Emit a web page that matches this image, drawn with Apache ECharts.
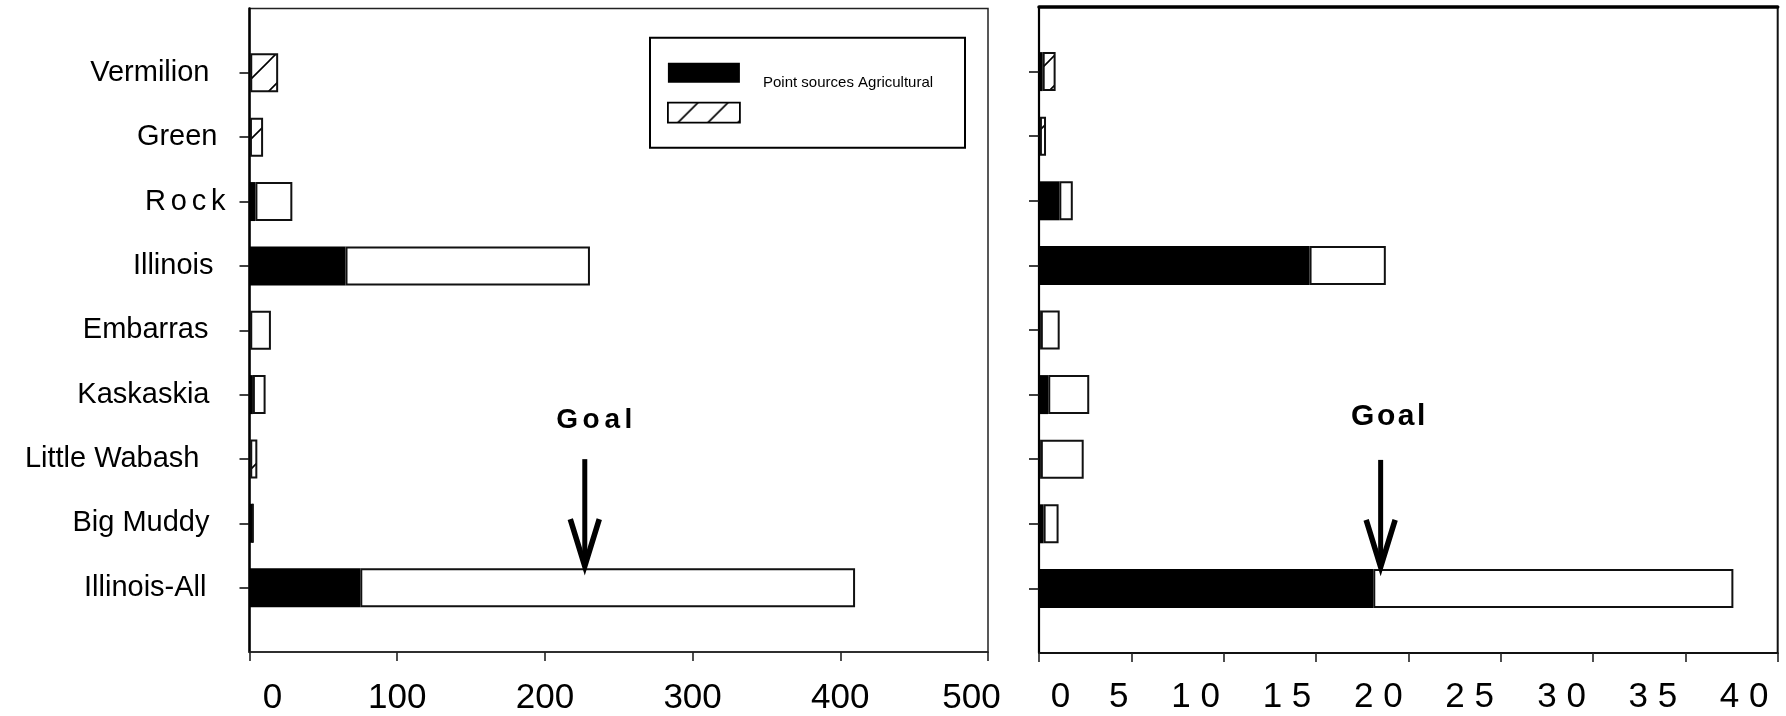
<!DOCTYPE html>
<html><head><meta charset="utf-8">
<script src="https://cdn.jsdelivr.net/npm/echarts@6/dist/echarts.min.js"></script>
<style>html,body{margin:0;padding:0;background:#fff}#c{width:1786px;height:716px}</style>
</head><body><div id="c"></div>
<script>
// ---- data ----
const categories = ['Vermilion', 'Green', 'Rock', 'Illinois', 'Embarras', 'Kaskaskia', 'Little Wabash', 'Big Muddy', 'Illinois-All'];
const leftPoint = [0.5, 0.3, 4, 65, 0.5, 2.3, 0.5, 2.3, 75];
const leftAgri  = [18.9, 8.9, 25, 165.5, 14, 8.6, 4.8, 0, 335];
const leftHatched = ['Vermilion', 'Green', 'Little Wabash'];
const rightPoint = [0.2, 0.05, 1.1, 14.65, 0.1, 0.5, 0.1, 0.25, 18.1];
const rightAgri  = [0.7, 0.33, 0.73, 4.13, 1.02, 2.22, 2.32, 0.81, 19.5];
const rightHatched = ['Vermilion', 'Green'];
const leftAxis = { min: 0, max: 500, interval: 100 };
const rightAxis = { min: 0, max: 40, interval: 5 };
const leftGoal = 227;
const rightGoal = 18.5;
const goalLabel = 'Goal';
const seriesNames = ['Point sources', 'Agricultural'];
const legendText = 'Point sources Agricultural';

// ---- label styling (positions only, not data) ----
const catLabelPadRight = { 'Vermilion': 16, 'Green': 8, 'Rock': 0, 'Illinois': 12, 'Embarras': 17, 'Kaskaskia': 16, 'Little Wabash': 26, 'Big Muddy': 16, 'Illinois-All': 19 };

// ---- helpers ----
const FONT = "'Liberation Sans', Arial, sans-serif";
function hatchCanvas() {
  const s = 30, c = document.createElement('canvas');
  c.width = s; c.height = s;
  const g = c.getContext('2d');
  g.fillStyle = '#fff'; g.fillRect(0, 0, s, s);
  g.strokeStyle = '#000'; g.lineWidth = 1.6;
  g.beginPath();
  g.moveTo(-2, s + 2); g.lineTo(s + 2, -2);
  g.moveTo(-2, 2); g.lineTo(2, -2);
  g.moveTo(s - 2, s + 2); g.lineTo(s + 2, s - 2);
  g.stroke();
  return c;
}
const hatch = { image: hatchCanvas(), repeat: 'repeat' };
const yCats = ['', ...categories, ' '];
const pad = arr => ['-', ...arr, '-'];
function agriData(vals, hatched) {
  return pad(vals.map((v, i) => hatched.includes(categories[i]) ? { value: v, itemStyle: { color: hatch } } : v));
}
const BW = 39;
function barSeries(idx, point, agri, hatched) {
  return [
    { name: seriesNames[0], type: 'bar', stack: 's' + idx, xAxisIndex: idx, yAxisIndex: idx, barWidth: BW,
      itemStyle: { color: '#000' }, data: pad(point), silent: true },
    { name: seriesNames[1], type: 'bar', stack: 's' + idx, xAxisIndex: idx, yAxisIndex: idx, barWidth: BW,
      itemStyle: { color: '#fff', borderColor: '#111', borderWidth: 2 }, data: agriData(agri, hatched), silent: true }
  ];
}
const tickCat = { show: true, length: 10, inside: false, interval: (i) => i > 0 && i < yCats.length - 1, lineStyle: { color: '#111', width: 1.6 } };

// category label rich tokens
const catRich = {};
categories.forEach((c, i) => { catRich['c' + i] = { fontSize: 29, fontFamily: FONT, color: '#000', padding: [0, catLabelPadRight[c] || 0, 0, 0] }; });
function catFormatter(v) {
  const i = categories.indexOf(v);
  if (i < 0) return '';
  const t = v === 'Rock' ? 'R\u2006o\u2006c\u2006k' : v;
  return '{c' + i + '|' + t + '}';
}

// right axis labels: spaced digits, right-aligned to tick (min label sits right of its tick)
const FS = 35;
function spacedWidth(s) { let w = 0; for (const ch of s) w += (ch === ' ' ? 0.278 : 0.556) * FS; return w; }
const rightRich = {};
function rightFormatter(v) {
  const s = String(v).split('').join(' ');
  const key = 'r' + v;
  if (v === rightAxis.min) {
    rightRich[key] = { fontSize: FS, fontFamily: FONT, color: '#000', padding: [0, 0, 0, 43] };
  } else {
    const d = 2 + 0.18 * v;
    rightRich[key] = { fontSize: FS, fontFamily: FONT, color: '#000', padding: [0, Math.round(spacedWidth(s) + 2 * d), 0, 0] };
  }
  return '{' + key + '|' + s + '}';
}
for (let v = rightAxis.min; v <= rightAxis.max; v += rightAxis.interval) rightFormatter(v);

const chart = echarts.init(document.getElementById('c'), null, { renderer: 'canvas' });
const option = {
  animation: false,
  backgroundColor: '#fff',
  textStyle: { fontFamily: FONT },
  grid: [
    { left: 249.5, top: 8.5, width: 738.5, height: 645.5, show: true, borderColor: '#222', borderWidth: 1.5, containLabel: false },
    { left: 1039, top: 7, width: 738.7, height: 646, show: true, borderColor: '#111', borderWidth: 2, containLabel: false }
  ],
  xAxis: [
    { type: 'value', gridIndex: 0, min: leftAxis.min, max: leftAxis.max, interval: leftAxis.interval,
      splitLine: { show: false },
      axisLine: { show: true, lineStyle: { color: '#222', width: 1.6 } },
      axisTick: { show: true, length: 9, lineStyle: { color: '#222', width: 1.6 } },
      axisLabel: { margin: 29, color: '#000', fontSize: FS, fontFamily: FONT,
        formatter: v => v === leftAxis.min ? '{s|' + v + '}' : (v === leftAxis.max ? '{e|' + v + '}' : '{n|' + v + '}'),
        rich: {
          s: { fontSize: FS, fontFamily: FONT, color: '#000', padding: [0, 0, 0, 46] },
          e: { fontSize: FS, fontFamily: FONT, color: '#000', padding: [0, 33, 0, 0] },
          n: { fontSize: FS, fontFamily: FONT, color: '#000' }
        } } },
    { type: 'value', gridIndex: 1, min: rightAxis.min, max: rightAxis.max, interval: rightAxis.interval,
      splitLine: { show: false },
      axisLine: { show: true, lineStyle: { color: '#111', width: 1.8 } },
      axisTick: { show: true, length: 9, lineStyle: { color: '#222', width: 1.6 } },
      axisLabel: { margin: 27, color: '#000', fontSize: FS, fontFamily: FONT, align: 'center',
        formatter: rightFormatter, rich: rightRich } },
    { type: 'value', gridIndex: 1, position: 'top', min: rightAxis.min, max: rightAxis.max,
      axisLine: { show: true, lineStyle: { color: '#000', width: 3.5 } },
      axisTick: { show: false }, axisLabel: { show: false }, splitLine: { show: false } }
  ],
  yAxis: [
    { type: 'category', gridIndex: 0, data: yCats, inverse: true, boundaryGap: false,
      axisLine: { show: true, lineStyle: { color: '#000', width: 2.5 } },
      axisTick: tickCat, splitLine: { show: false },
      axisLabel: { show: true, interval: 0, margin: 24, color: '#000', fontSize: 29, fontFamily: FONT,
        formatter: catFormatter, rich: catRich } },
    { type: 'category', gridIndex: 1, data: yCats, inverse: true, boundaryGap: false,
      axisLine: { show: true, lineStyle: { color: '#000', width: 2.2 } },
      axisTick: tickCat, splitLine: { show: false }, axisLabel: { show: false } }
  ],
  legend: {
    left: 667, top: 62.7, orient: 'vertical', padding: 0, itemWidth: 72, itemHeight: 20, itemGap: 19,
    selectedMode: false, formatter: () => '',
    data: [
      { name: seriesNames[0], icon: 'rect', itemStyle: { color: '#000', borderWidth: 0 } },
      { name: seriesNames[1], icon: 'rect', itemStyle: { color: hatch, borderColor: '#000', borderWidth: 1.8 } }
    ]
  },
  series: [...barSeries(0, leftPoint, leftAgri, leftHatched), ...barSeries(1, rightPoint, rightAgri, rightHatched)]
};
chart.setOption(option);

// ---- annotations positioned through the chart's own scales ----
function goalGroup(gridIndex, goal, textDx, textDy, font, text) {
  const p = chart.convertToPixel({ gridIndex: gridIndex }, [goal, categories[categories.length - 1]]);
  const x = p[0], tip = p[1] - BW / 2;
  return [
    { type: 'line', shape: { x1: x, y1: tip - 109, x2: x, y2: tip - 8 }, style: { stroke: '#000', lineWidth: 5 }, z: 100 },
    { type: 'polyline', shape: { points: [[x - 14.5, tip - 49], [x, tip - 2], [x + 14.5, tip - 49]] },
      style: { stroke: '#000', lineWidth: 5.5, fill: null, lineJoin: 'miter', miterLimit: 10 }, z: 100 },
    { type: 'text', x: x + textDx, y: tip + textDy, z: 100,
      style: { text: text, font: font, fill: '#000', align: 'center', verticalAlign: 'middle' } }
  ];
}
const graphics = [
  { type: 'rect', shape: { x: 650, y: 37.7, width: 315, height: 110 }, style: { fill: null, stroke: '#000', lineWidth: 2 }, z: 50 },
  { type: 'text', x: 763, y: 82.5, z: 50, style: { text: legendText, font: '15px ' + FONT, fill: '#000', verticalAlign: 'middle' } },
  ...goalGroup(0, leftGoal, 9.5, -148, 'bold 28px ' + FONT, goalLabel.split('').join('\u2006')),
  ...goalGroup(1, rightGoal, 7.5, -152, 'bold 30px ' + FONT, goalLabel.split('').join('\u200A'))
];
chart.setOption({ graphic: graphics });
</script>
</body></html>
